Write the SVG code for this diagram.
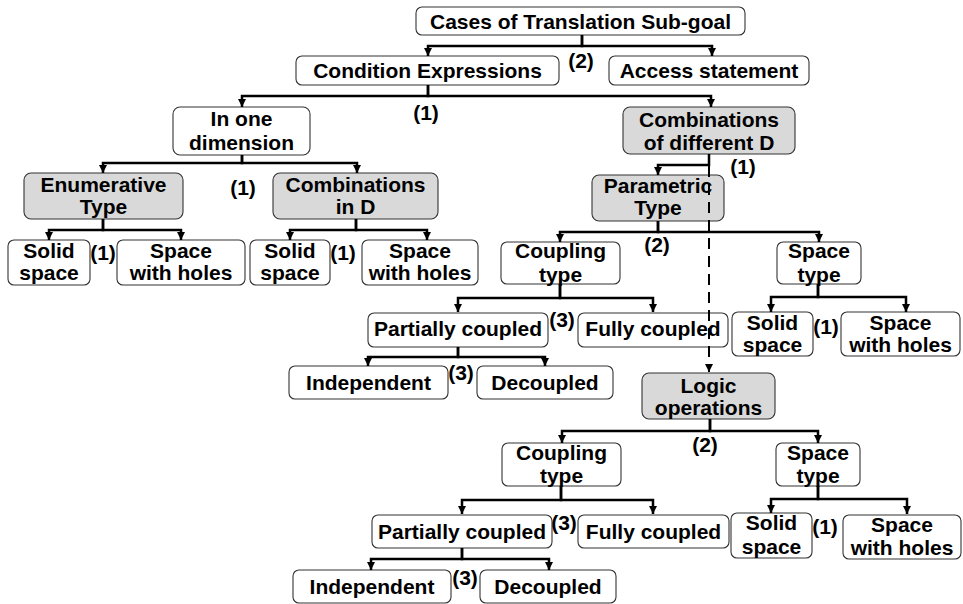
<svg xmlns="http://www.w3.org/2000/svg" width="963" height="604" viewBox="0 0 963 604">
  <style>
    .box { fill: #ffffff; stroke: #333333; stroke-width: 1.1; }
    .gray { fill: #d9d9d9; }
    text { font-family: "Liberation Sans", Arial, sans-serif; font-weight: bold; font-size: 21px; fill: #000000; text-anchor: middle; }
    .conn { fill: none; stroke: #000000; stroke-width: 2.5; }
    .dash { fill: none; stroke: #000000; stroke-width: 2; stroke-dasharray: 11 7; }
  </style>
  <defs>
    <marker id="arrow" markerUnits="userSpaceOnUse" markerWidth="9" markerHeight="9" refX="8" refY="4" orient="auto">
      <path d="M0,0 L8,4 L0,8 z" fill="#000000"/>
    </marker>
  </defs>

  <rect width="963" height="604" fill="#ffffff"/>

  <!-- nodes -->
  <g id="n-cases"><rect class="box" x="416" y="7" width="329" height="28" rx="6"/><text x="580.5" y="29">Cases of Translation Sub-goal</text></g>
  <g id="n-condition"><rect class="box" x="296" y="56" width="263" height="29" rx="6"/><text x="427.5" y="78">Condition Expressions</text></g>
  <g id="n-access"><rect class="box" x="609" y="56" width="200" height="29" rx="6"/><text x="709" y="78">Access statement</text></g>

  <g id="n-onedim"><rect class="box" x="173" y="107" width="137" height="48" rx="7"/><text x="241.5" y="126">In one</text><text x="241.5" y="150">dimension</text></g>
  <g id="n-combdiff"><rect class="box gray" x="623" y="107" width="172" height="47" rx="7"/><text x="709" y="127">Combinations</text><text x="709" y="150">of different D</text></g>

  <g id="n-enum"><rect class="box gray" x="24" y="173" width="159" height="46" rx="7"/><text x="103.5" y="192">Enumerative</text><text x="103.5" y="214">Type</text></g>
  <g id="n-combind"><rect class="box gray" x="273" y="173" width="165" height="46" rx="7"/><text x="355.5" y="192">Combinations</text><text x="355.5" y="214">in D</text></g>

  <g id="n-solid1"><rect class="box" x="8" y="240" width="82" height="45" rx="6"/><text x="49" y="258">Solid</text><text x="49" y="280">space</text></g>
  <g id="n-holes1"><rect class="box" x="117" y="240" width="128" height="45" rx="6"/><text x="181" y="258">Space</text><text x="181" y="280">with holes</text></g>
  <g id="n-solid2"><rect class="box" x="250" y="240" width="80" height="45" rx="6"/><text x="290" y="258">Solid</text><text x="290" y="280">space</text></g>
  <g id="n-holes2"><rect class="box" x="362" y="240" width="116" height="45" rx="6"/><text x="420" y="258">Space</text><text x="420" y="280">with holes</text></g>

  <g id="n-param"><rect class="box gray" x="592" y="175" width="132" height="46" rx="7"/><text x="658" y="193">Parametric</text><text x="658" y="215">Type</text></g>

  <g id="n-coupling1"><rect class="box" x="501" y="242" width="119" height="42" rx="6"/><text x="560.5" y="258">Coupling</text><text x="560.5" y="282">type</text></g>
  <g id="n-spacetype1"><rect class="box" x="777" y="242" width="84" height="42" rx="6"/><text x="819" y="258">Space</text><text x="819" y="282">type</text></g>

  <g id="n-partial1"><rect class="box" x="368" y="313" width="180" height="34" rx="6"/><text x="458" y="336">Partially coupled</text></g>
  <g id="n-fully1"><rect class="box" x="578" y="313" width="150" height="34" rx="6"/><text x="653" y="336">Fully coupled</text></g>
  <g id="n-indep1"><rect class="box" x="289" y="366" width="159" height="33" rx="6"/><text x="368.5" y="390">Independent</text></g>
  <g id="n-decoup1"><rect class="box" x="477" y="366" width="136" height="33" rx="6"/><text x="545" y="390">Decoupled</text></g>

  <g id="n-solid3"><rect class="box" x="732" y="312" width="81" height="44" rx="6"/><text x="772.5" y="330">Solid</text><text x="772.5" y="352">space</text></g>
  <g id="n-holes3"><rect class="box" x="841" y="312" width="119" height="44" rx="6"/><text x="900.5" y="330">Space</text><text x="900.5" y="352">with holes</text></g>

  <g id="n-logic"><rect class="box gray" x="642" y="373" width="133" height="46" rx="7"/><text x="708.5" y="393">Logic</text><text x="708.5" y="415">operations</text></g>

  <g id="n-coupling2"><rect class="box" x="502" y="443" width="119" height="43" rx="6"/><text x="561.5" y="460">Coupling</text><text x="561.5" y="483">type</text></g>
  <g id="n-spacetype2"><rect class="box" x="776" y="443" width="84" height="43" rx="6"/><text x="818" y="460">Space</text><text x="818" y="483">type</text></g>

  <g id="n-partial2"><rect class="box" x="372" y="515" width="180" height="33" rx="6"/><text x="462" y="539">Partially coupled</text></g>
  <g id="n-fully2"><rect class="box" x="578" y="515" width="151" height="33" rx="6"/><text x="653.5" y="539">Fully coupled</text></g>
  <g id="n-indep2"><rect class="box" x="293" y="570" width="158" height="33" rx="6"/><text x="372" y="594">Independent</text></g>
  <g id="n-decoup2"><rect class="box" x="480" y="570" width="136" height="33" rx="6"/><text x="548" y="594">Decoupled</text></g>

  <g id="n-solid4"><rect class="box" x="731" y="513" width="81" height="45" rx="6"/><text x="771.5" y="530">Solid</text><text x="771.5" y="554">space</text></g>
  <g id="n-holes4"><rect class="box" x="843" y="515" width="118" height="44" rx="6"/><text x="902" y="532">Space</text><text x="902" y="555">with holes</text></g>

  <!-- branch-count labels -->
  <g id="labels">
    <text x="581" y="68">(2)</text>
    <text x="426" y="120">(1)</text>
    <text x="243" y="195">(1)</text>
    <text x="103" y="260">(1)</text>
    <text x="343" y="260">(1)</text>
    <text x="743" y="174">(1)</text>
    <text x="657" y="252">(2)</text>
    <text x="562" y="327">(3)</text>
    <text x="461" y="380">(3)</text>
    <text x="826" y="334">(1)</text>
    <text x="705" y="452">(2)</text>
    <text x="564" y="530">(3)</text>
    <text x="465" y="585">(3)</text>
    <text x="825" y="534">(1)</text>
  </g>

  <!-- connectors: parent bottom, down to bar, across, down to child top -->
  <g id="connectors">
    <path class="conn" marker-end="url(#arrow)" d="M582,35 V46 H428 V56"/>
    <path class="conn" marker-end="url(#arrow)" d="M582,35 V46 H712 V56"/>

    <path class="conn" marker-end="url(#arrow)" d="M428,85 V96 H242 V107"/>
    <path class="conn" marker-end="url(#arrow)" d="M428,85 V96 H711 V107"/>

    <path class="conn" marker-end="url(#arrow)" d="M242,155 V163 H103 V173"/>
    <path class="conn" marker-end="url(#arrow)" d="M242,155 V163 H357 V173"/>

    <path class="conn" marker-end="url(#arrow)" d="M103,219 V230 H49 V240"/>
    <path class="conn" marker-end="url(#arrow)" d="M103,219 V230 H181 V240"/>

    <path class="conn" marker-end="url(#arrow)" d="M356,219 V230 H290 V240"/>
    <path class="conn" marker-end="url(#arrow)" d="M356,219 V230 H427 V240"/>

    <path class="conn" marker-end="url(#arrow)" d="M709,154 V165 H658 V175"/>
    <path class="dash" marker-end="url(#arrow)" d="M709,166 V372"/>

    <path class="conn" marker-end="url(#arrow)" d="M658,221 V232 H560 V242"/>
    <path class="conn" marker-end="url(#arrow)" d="M658,221 V232 H819 V242"/>

    <path class="conn" marker-end="url(#arrow)" d="M560,284 V298 H458 V312"/>
    <path class="conn" marker-end="url(#arrow)" d="M560,284 V298 H653 V312"/>

    <path class="conn" marker-end="url(#arrow)" d="M458,347 V357 H368 V366"/>
    <path class="conn" marker-end="url(#arrow)" d="M458,347 V357 H545 V366"/>

    <path class="conn" marker-end="url(#arrow)" d="M818,284 V297 H771 V312"/>
    <path class="conn" marker-end="url(#arrow)" d="M818,284 V297 H906 V312"/>

    <path class="conn" marker-end="url(#arrow)" d="M710,419 V431 H562 V443"/>
    <path class="conn" marker-end="url(#arrow)" d="M710,419 V431 H818 V443"/>

    <path class="conn" marker-end="url(#arrow)" d="M561,486 V500 H462 V514"/>
    <path class="conn" marker-end="url(#arrow)" d="M561,486 V500 H653 V514"/>

    <path class="conn" marker-end="url(#arrow)" d="M462,548 V559 H371 V570"/>
    <path class="conn" marker-end="url(#arrow)" d="M462,548 V559 H549 V570"/>

    <path class="conn" marker-end="url(#arrow)" d="M818,486 V499 H771 V513"/>
    <path class="conn" marker-end="url(#arrow)" d="M818,486 V499 H907 V514"/>
  </g>
</svg>
